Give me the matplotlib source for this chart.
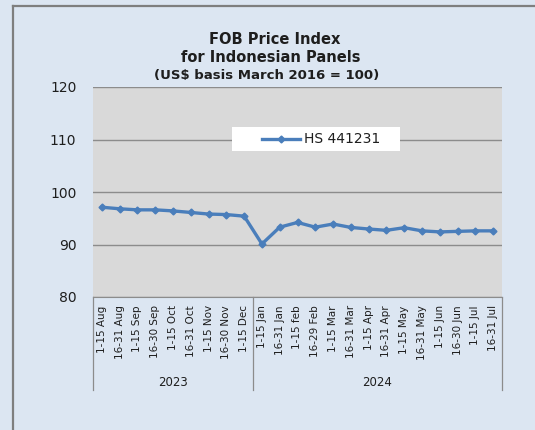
import matplotlib
matplotlib.use('Agg')
import matplotlib.pyplot as plt
from matplotlib.patches import Rectangle
from matplotlib.lines import Line2D
import numpy as np

years = ['2023', '2024']
periods_2023 = ['1-15 Aug', '16-31 Aug', '1-15 Sep', '16-30 Sep', '1-15 Oct',
                '16-31 Oct', '1-15 Nov', '16-30 Nov', '1-15 Dec']
periods_2024 = ['1-15 Jan', '16-31 Jan', '1-15 feb', '16-29 Feb', '1-15 Mar',
                '16-31 Mar', '1-15 Apr', '16-31 Apr', '1-15 May', '16-31 May',
                '1-15 Jun', '16-30 Jun', '1-15 Jul', '16-31 Jul']
index_2023 = [97.1, 96.8, 96.6, 96.6, 96.4, 96.1, 95.8, 95.7, 95.4]
index_2024 = [90.1, 93.3, 94.2, 93.3, 93.9, 93.25, 92.95, 92.7, 93.2,
              92.6, 92.4, 92.5, 92.6, 92.6]
series_name = 'HS 441231'

labels = periods_2023 + periods_2024
values = index_2023 + index_2024
x = np.arange(len(labels))

bg = '#DCE6F2'
line_col = '#4A7EBB'
txt = '#1E1E1E'

W, H = 535., 430.
fig = plt.figure(figsize=(5.35, 4.30), dpi=100)
fig.patch.set_facecolor(bg)
# outer chart border (left/top visible)
fig.add_artist(Line2D([13/W, 13/W], [0, 1 - 6/H], transform=fig.transFigure,
                      color='#7F7F7F', lw=1.6))
fig.add_artist(Line2D([13/W, 1], [1 - 6/H, 1 - 6/H], transform=fig.transFigure,
                      color='#7F7F7F', lw=1.6))

ax = fig.add_axes([93/W, 1 - 297/H, 409/W, 210/H])
ax.set_facecolor('#D9D9D9')
ax.plot(x, values, color=line_col, lw=2.4, marker='D', ms=3.5, zorder=3)
ax.set_xlim(-0.5, len(labels) - 0.5)
ax.set_ylim(80, 120)
ax.set_yticks([80, 90, 100, 110, 120])
ax.yaxis.grid(True, color='#8C8C8C', lw=1.0)
ax.set_axisbelow(True)
for s in ['top', 'right', 'left']:
    ax.spines[s].set_visible(False)
ax.spines['bottom'].set_color('#8C8C8C')
ax.tick_params(axis='y', length=0, pad=12, labelsize=10, labelcolor=txt)
ax.set_xticks(x)
ax.set_xticklabels(labels, rotation=90, fontsize=7.5, color=txt)
ax.tick_params(axis='x', length=0, pad=6)

# multi-level category separators and year labels
n23 = len(periods_2023)
sep_pos = [-0.5, n23 - 0.5, len(labels) - 0.5]
for p in sep_pos:
    ax.plot([p, p], [80, 80 - 93 / 210 * 40], color='#8C8C8C', lw=0.9,
            clip_on=False)
ax.text((sep_pos[0] + sep_pos[1]) / 2, 80 - 85 / 210 * 40, years[0],
        ha='center', va='center', fontsize=8.5, color=txt)
ax.text((sep_pos[1] + sep_pos[2]) / 2, 80 - 85 / 210 * 40, years[1],
        ha='center', va='center', fontsize=8.5, color=txt)

# legend box drawn by hand, Excel style
fig.add_artist(Rectangle((232/W, 1 - 151/H), 168/W, 24/H, transform=fig.transFigure,
                         facecolor='white', edgecolor='none', zorder=5))
fig.add_artist(Line2D([262/W, 300/W], [1 - 139/H, 1 - 139/H], transform=fig.transFigure,
                      color=line_col, lw=2.4, zorder=6))
fig.add_artist(Line2D([281/W], [1 - 139/H], transform=fig.transFigure, color=line_col,
                      marker='D', ms=3.5, zorder=6))
fig.text(304/W, 1 - 139/H, series_name, ha='left', va='center', fontsize=10,
         color=txt, zorder=7)

fig.text(275/W, 1 - 40/H, 'FOB Price Index', ha='center', va='center',
         fontsize=10.5, fontweight='bold', color=txt)
fig.text(271/W, 1 - 58/H, 'for Indonesian Panels', ha='center', va='center',
         fontsize=10.5, fontweight='bold', color=txt)
fig.text(267/W, 1 - 76/H, '(US$ basis March 2016 = 100)', ha='center',
         va='center', fontsize=9.5, fontweight='bold', color=txt)

fig.savefig('out.png', dpi=100, facecolor=fig.get_facecolor())
